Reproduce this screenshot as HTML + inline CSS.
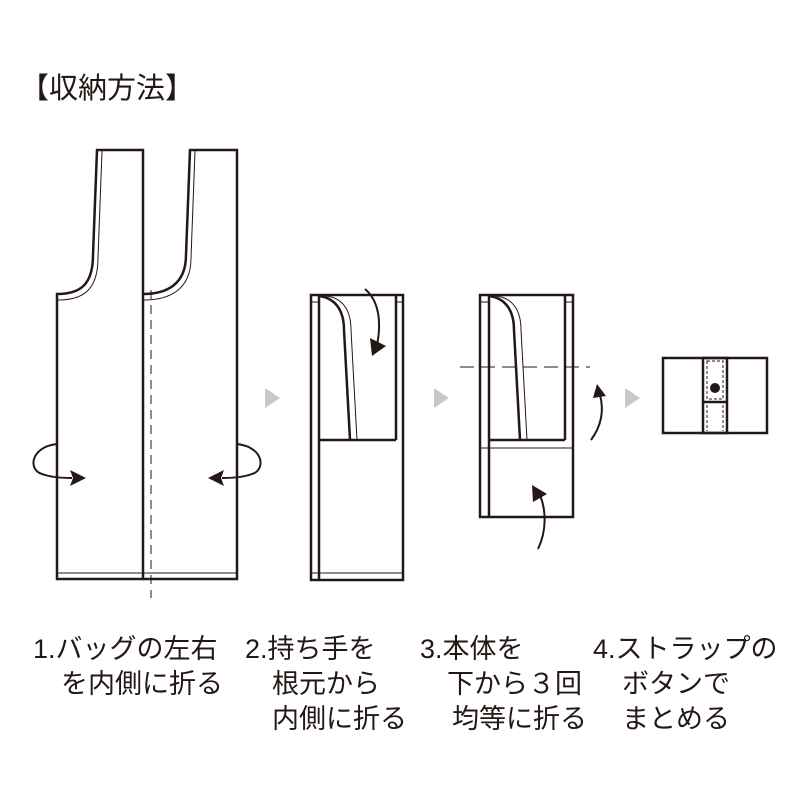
<!DOCTYPE html>
<html><head><meta charset="utf-8"><style>
html,body{margin:0;padding:0;background:#fff;}
svg{display:block;}
text{font-family:"Liberation Sans","Noto Sans CJK JP",sans-serif;fill:#231815;}
</style></head><body>
<svg width="800" height="800" viewBox="0 0 800 800" xmlns="http://www.w3.org/2000/svg">
<g fill="none" stroke="#231815" stroke-width="2.5">
<path d="M57,579 L57,294 C80,294 93,285 93,255 L97,150 L143,150 L143,579 Z"/>
<path d="M143,294 C166,294 186,285 186,255 L190,150 L237,150 L237,579 L143,579"/>
</g>
<g fill="none" stroke="#231815" stroke-width="1">
<path d="M58,300 C83,300 98,290 98,258 L102,151"/>
<path d="M144,300 C169,300 191,290 191,258 L195,151"/>
<line x1="57" y1="573" x2="237" y2="573"/>
<line x1="151" y1="290" x2="151" y2="598" stroke-dasharray="9,6"/>
<line x1="460" y1="367" x2="590" y2="367" stroke-dasharray="14,7"/>
</g>
<g fill="none" stroke="#231815" stroke-width="2">
<path d="M57,444 C30,447 28,470 42,474 C50,477 62,478 72,478"/>
<path d="M237,444 C264,447 266,470 252,474 C244,477 232,478 222,478"/>
</g>
<polygon points="86,478 70,470 73,478 70,486" fill="#231815"/>
<polygon points="208,478 224,470 221,478 224,486" fill="#231815"/>
<g fill="none" stroke="#231815" stroke-width="2.5">
<rect x="311" y="295" width="92" height="285"/>
<line x1="319" y1="295" x2="319" y2="580"/>
<line x1="396" y1="295" x2="396" y2="440"/>
<line x1="319" y1="440" x2="396" y2="440"/>
<path d="M319,296 C335,298 344,310 344,330 L350,440"/>
</g>
<g fill="none" stroke="#231815" stroke-width="1">
<path d="M326,296 C344,298 351,312 351,330 L357,440"/>
<line x1="311" y1="573" x2="403" y2="573"/>
<line x1="311" y1="302" x2="319" y2="302"/>
<line x1="396" y1="302" x2="403" y2="302"/>
</g>
<path d="M365,289 C378,300 382,320 377,345" fill="none" stroke="#231815" stroke-width="2"/>
<polygon points="372,356 370,338 386,346" fill="#231815"/>
<g fill="none" stroke="#231815" stroke-width="2.5">
<rect x="480" y="295" width="93" height="222"/>
<line x1="489" y1="295" x2="489" y2="517"/>
<line x1="565" y1="295" x2="565" y2="440"/>
<line x1="489" y1="440" x2="565" y2="440"/>
<path d="M489,296 C505,298 514,310 514,330 L520,440"/>
</g>
<g fill="none" stroke="#231815" stroke-width="1">
<path d="M496,296 C514,298 521,312 521,330 L527,440"/>
<line x1="480" y1="448" x2="573" y2="448"/>
<line x1="480" y1="302" x2="489" y2="302"/>
<line x1="565" y1="302" x2="573" y2="302"/>
</g>
<path d="M591,440 C602,425 604,410 600,395" fill="none" stroke="#231815" stroke-width="2"/>
<polygon points="597,384 593,398 606,396" fill="#231815"/>
<path d="M538,549 C547,530 546,510 540,495" fill="none" stroke="#231815" stroke-width="2"/>
<polygon points="532,485 533,502 547,494" fill="#231815"/>
<g fill="none" stroke="#231815" stroke-width="2.5">
<rect x="663" y="358" width="104" height="75"/>
<rect x="703" y="358" width="24" height="75"/>
<line x1="703" y1="402" x2="727" y2="402"/>
</g>
<g fill="none" stroke="#231815" stroke-width="1" stroke-dasharray="3,2">
<rect x="707" y="361" width="16" height="38"/>
<line x1="707" y1="405" x2="707" y2="431"/>
<line x1="723" y1="405" x2="723" y2="431"/>
</g>
<circle cx="715" cy="388" r="5" fill="#231815"/>
<g fill="#c8c8c8">
<polygon points="265,388 265,408 280,398"/>
<polygon points="434,388 434,408 449,398"/>
<polygon points="625,388 625,408 640,398"/>
</g>
<text x="20" y="98" font-size="29">【収納方法】</text>
<g font-size="27">
<text x="33" y="658">1.バッグの左右</text>
<text x="61" y="693">を内側に折る</text>
<text x="245" y="658">2.持ち手を</text>
<text x="272" y="693">根元から</text>
<text x="272" y="728">内側に折る</text>
<text x="420" y="658">3.本体を</text>
<text x="447" y="693">下から３回</text>
<text x="452" y="728">均等に折る</text>
<text x="593" y="658">4.ストラップの</text>
<text x="622" y="693">ボタンで</text>
<text x="622" y="728">まとめる</text>
</g>
</svg>
</body></html>
